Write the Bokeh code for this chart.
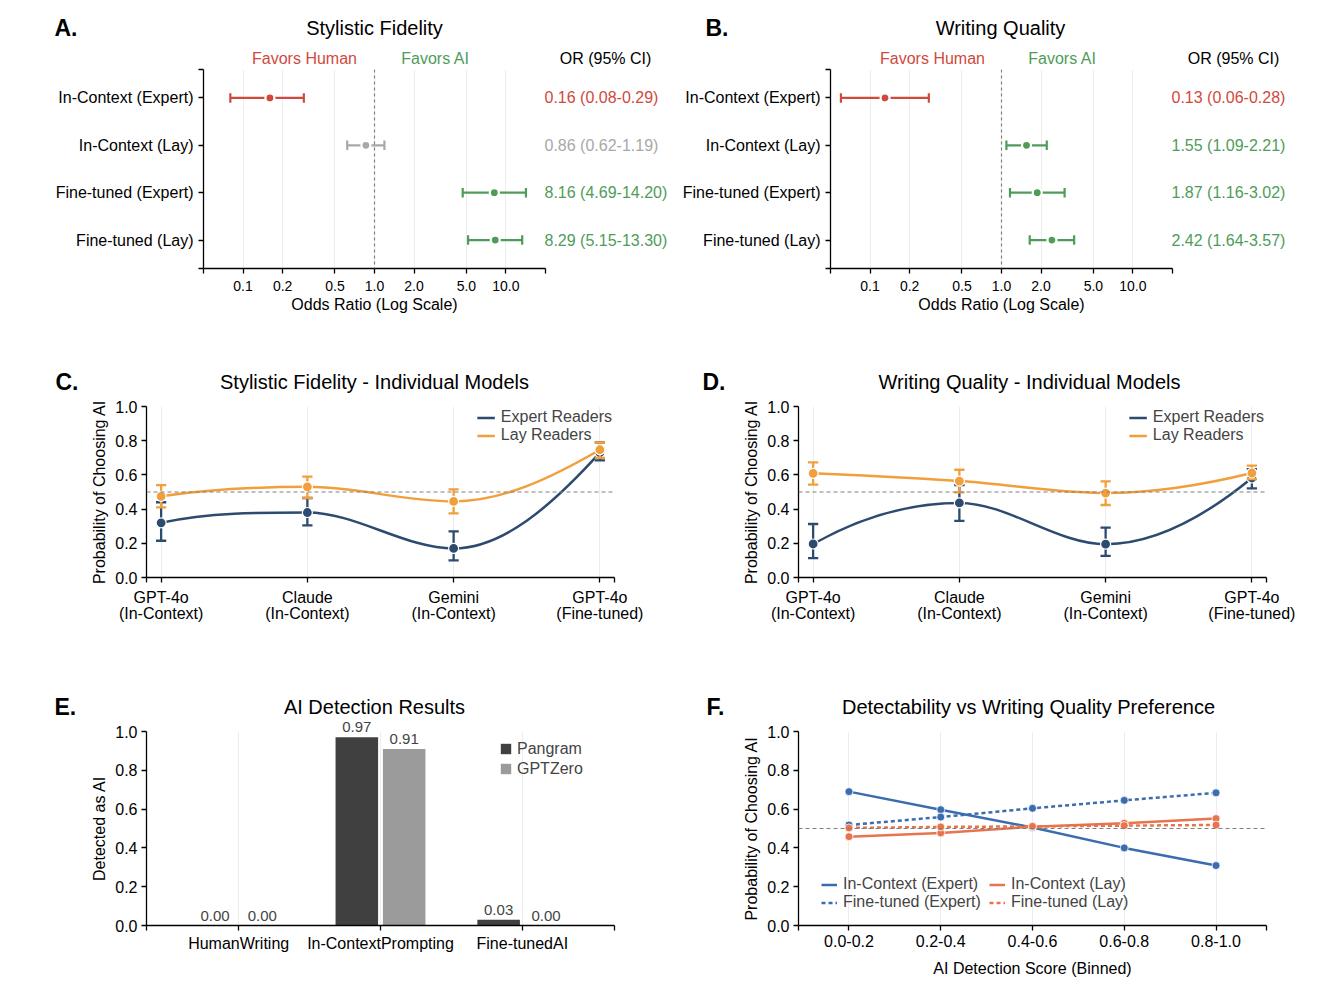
import numpy as np
from bokeh.plotting import figure
from bokeh.models import (ColumnDataSource, Label, LabelSet, FixedTicker, Span, Range1d,
                          Legend, LegendItem, PrintfTickFormatter, GridBox)
from bokeh.layouts import column, row
from bokeh.embed import file_html
from bokeh.resources import INLINE
from bokeh.core.properties import value

# ---------------- data ----------------
or_categories = ["In-Context (Expert)", "In-Context (Lay)", "Fine-tuned (Expert)", "Fine-tuned (Lay)"]
style_or = [0.16, 0.86, 8.16, 8.29]
style_lo = [0.08, 0.62, 4.69, 5.15]
style_hi = [0.29, 1.19, 14.20, 13.30]
quality_or = [0.13, 1.55, 1.87, 2.42]
quality_lo = [0.06, 1.09, 1.16, 1.64]
quality_hi = [0.28, 2.21, 3.02, 3.57]
or_ticks = [0.1, 0.2, 0.5, 1.0, 2.0, 5.0, 10.0]
or_tick_labels = ["0.1", "0.2", "0.5", "1.0", "2.0", "5.0", "10.0"]

model_labels = ["GPT-4o\n(In-Context)", "Claude\n(In-Context)", "Gemini\n(In-Context)", "GPT-4o\n(Fine-tuned)"]
style_expert = [0.32, 0.38, 0.17, 0.73]
style_expert_lo = [0.215, 0.305, 0.10, 0.685]
style_expert_hi = [0.44, 0.465, 0.27, 0.79]
style_lay = [0.475, 0.53, 0.445, 0.747]
style_lay_lo = [0.41, 0.465, 0.375, 0.70]
style_lay_hi = [0.54, 0.59, 0.515, 0.79]
quality_expert = [0.196, 0.436, 0.195, 0.582]
quality_expert_lo = [0.113, 0.331, 0.126, 0.521]
quality_expert_hi = [0.313, 0.54, 0.292, 0.634]
quality_lay = [0.609, 0.564, 0.494, 0.611]
quality_lay_lo = [0.543, 0.498, 0.424, 0.575]
quality_lay_hi = [0.673, 0.630, 0.562, 0.654]
prob_ticks = [0.0, 0.2, 0.4, 0.6, 0.8, 1.0]

detect_categories = ["HumanWriting", "In-ContextPrompting", "Fine-tunedAI"]
pangram = [0.00, 0.97, 0.03]
gptzero = [0.00, 0.91, 0.00]

score_bins = ["0.0-0.2", "0.2-0.4", "0.4-0.6", "0.6-0.8", "0.8-1.0"]
ic_expert = [0.69, 0.597, 0.505, 0.40, 0.309]
ft_expert = [0.518, 0.559, 0.604, 0.645, 0.684]
ic_lay = [0.458, 0.477, 0.509, 0.527, 0.551]
ft_lay = [0.503, 0.508, 0.511, 0.515, 0.518]

# ---------------- style ----------------
FONT = "Liberation Sans"
RED = "#d0493d"
GREEN = "#4e9c59"
GRAY = "#a8a8a8"
NAVY = "#2d4a6f"
ORANGE = "#f19f3c"
DARK = "#404040"
LIGHT = "#9b9b9b"
FBLUE = "#3b6cae"
FORANGE = "#e7744c"
GRID = "#ededed"


def make_panel(ox, oy, w, h, l, r, t, b, xr, yr, xlog=False):
    """Chart figure plus a transparent text overlay sharing the same data mapping."""
    kw = dict(x_axis_type="log") if xlog else {}
    p = figure(width=w, height=h, min_border_left=l, min_border_right=r,
               min_border_top=t, min_border_bottom=b, x_range=xr, y_range=yr,
               toolbar_location=None, output_backend="svg", **kw)
    p.frame_align = False
    p.outline_line_color = None
    p.background_fill_color = "white"
    p.border_fill_color = "white"
    p.ygrid.visible = False
    p.xgrid.grid_line_color = GRID
    p.xgrid.grid_line_width = 1
    for ax in p.axis:
        ax.axis_line_color = "black"
        ax.axis_line_width = 1.3
        ax.major_tick_line_color = "black"
        ax.major_tick_line_width = 1.3
        ax.major_tick_out = 5
        ax.major_tick_in = 0
        ax.minor_tick_line_color = None
        ax.major_label_text_font = FONT
        ax.major_label_text_color = "black"
        ax.major_label_text_font_size = "16px"
        ax.major_label_standoff = 4
        ax.axis_label_text_font = FONT
        ax.axis_label_text_font_style = "normal"
        ax.axis_label_text_font_size = "16px"
        ax.axis_label_text_color = "black"
        ax.axis_label_standoff = 4
    fx0, fx1 = ox + l, ox + w - r
    fy0, fy1 = oy + t, oy + h - b

    def X(px):
        f = (px - fx0) / (fx1 - fx0)
        if xlog:
            a, c = np.log10(xr[0]), np.log10(xr[1])
            return float(10 ** (a + f * (c - a)))
        return xr[0] + f * (xr[1] - xr[0])

    def Y(py):
        f = (fy1 - py) / (fy1 - fy0)
        return yr[0] + f * (yr[1] - yr[0])

    q = figure(width=w, height=h, min_border_left=0, min_border_right=0,
               min_border_top=0, min_border_bottom=0,
               x_range=Range1d(X(ox), X(ox + w)), y_range=Range1d(Y(oy + h), Y(oy)),
               x_axis_location=None, y_axis_location=None,
               toolbar_location=None, output_backend="svg", **kw)
    q.frame_align = False
    q.outline_line_color = None
    q.background_fill_color = None
    q.border_fill_color = None
    q.grid.visible = False
    return p, q, X, Y


def stack(p, q):
    return GridBox(children=[(p, 0, 0), (q, 0, 0)])


def add_text(q, x, y, text, size="16px", color="black", align="center",
             baseline="alphabetic", bold=False):
    q.add_layout(Label(x=x, y=y, text=text, text_font=FONT, text_font_size=size,
                       text_color=color, text_align=align, text_baseline=baseline,
                       text_font_style="bold" if bold else "normal"))


def panel_heading(q, X, Y, letter, lx, title, tx, by):
    add_text(q, X(lx), Y(by), letter, size="23px", align="left", bold=True)
    add_text(q, X(tx), Y(by), title, size="20px")


# ---------------- forest panels (A, B) ----------------
def forest(ox, w, l, r, letter, lx, title, tx, ors, los, his, hx_h, hx_a, hx_or, vx):
    xr, yr = (0.05, 20.0), (-0.6, 3.6)
    p, q, X, Y = make_panel(ox, 0, w, 336, l, r, 69, 68, xr, yr, xlog=True)
    n = len(or_categories)
    ypos = [n - 1 - i for i in range(n)]
    cols = [RED if h < 1 else (GREEN if lo > 1 else GRAY) for lo, h in zip(los, his)]
    src = ColumnDataSource(dict(
        y=ypos, o=ors, lo=los, hi=his, c=cols,
        ya=[v - 0.1 for v in ypos], yb=[v + 0.1 for v in ypos],
        txt=[f"{o:.2f} ({a:.2f}-{b:.2f})" for o, a, b in zip(ors, los, his)],
        tx=[X(vx)] * n))
    p.add_layout(Span(location=1.0, dimension="height", line_color="#808080",
                      line_dash="3 3", line_width=1.2))
    p.segment(x0="lo", y0="y", x1="hi", y1="y", line_color="c", line_width=2.2, source=src)
    p.segment(x0="lo", y0="ya", x1="lo", y1="yb", line_color="c", line_width=2.2, source=src)
    p.segment(x0="hi", y0="ya", x1="hi", y1="yb", line_color="c", line_width=2.2, source=src)
    p.scatter(x="o", y="y", size=9, fill_color="c", line_color="white", line_width=2.2, source=src)
    q.add_layout(LabelSet(x="tx", y="y", text="txt", text_color="c", source=src,
                          text_font=value(FONT), text_font_size=value("16px"),
                          text_align="left", text_baseline="middle"))
    p.xaxis.ticker = FixedTicker(ticks=[xr[0]] + or_ticks + [xr[1]])
    ov = {t: s for t, s in zip(or_ticks, or_tick_labels)}
    ov[xr[0]] = ""
    ov[xr[1]] = ""
    p.xaxis.major_label_overrides = ov
    p.xaxis.major_label_text_font_size = "14px"
    p.xaxis.major_label_standoff = 7
    p.xaxis.axis_label = "Odds Ratio (Log Scale)"
    p.xaxis.axis_label_standoff = 2
    p.xgrid.ticker = FixedTicker(ticks=or_ticks)
    p.yaxis.ticker = FixedTicker(ticks=[yr[0]] + sorted(ypos) + [yr[1]])
    yov = {yy: c for yy, c in zip(ypos, or_categories)}
    yov[yr[0]] = ""
    yov[yr[1]] = ""
    p.yaxis.major_label_overrides = yov
    p.yaxis.major_label_standoff = 5
    panel_heading(q, X, Y, letter, lx, title, tx, 27)
    add_text(q, X(hx_h), Y(58), "Favors Human", color=RED)
    add_text(q, X(hx_a), Y(58), "Favors AI", color=GREEN)
    add_text(q, X(hx_or), Y(58), "OR (95% CI)")
    return stack(p, q)


pA = forest(0, 676, 203, 131, "A.", 54, "Stylistic Fidelity", 374,
            style_or, style_lo, style_hi, 304, 435, 605, 544)
pB = forest(676, 640, 154, 144, "B.", 705, "Writing Quality", 1000,
            quality_or, quality_lo, quality_hi, 932, 1062, 1233, 1171)


# ---------------- model panels (C, D) ----------------
def pchip_source(y):
    """Monotone cubic (PCHIP) segments through the points, expressed as Bezier curves."""
    y = np.asarray(y, float)
    n = len(y)
    d = y[1:] - y[:-1]
    m = np.zeros(n)
    for k in range(1, n - 1):
        if d[k - 1] * d[k] > 0:
            m[k] = 2.0 / (1.0 / d[k - 1] + 1.0 / d[k])
    for k, (a, c) in ((0, (d[0], d[1])), (n - 1, (d[-1], d[-2]))):
        e = (3 * a - c) / 2.0
        if np.sign(e) != np.sign(a):
            e = 0.0
        elif np.sign(a) != np.sign(c) and abs(e) > abs(3 * a):
            e = 3 * a
        m[k] = e
    x0 = np.arange(n - 1, dtype=float)
    x1 = x0 + 1
    return ColumnDataSource(dict(x0=x0, y0=y[:-1], x1=x1, y1=y[1:],
                                 cx0=x0 + 1 / 3, cy0=y[:-1] + m[:-1] / 3,
                                 cx1=x1 - 1 / 3, cy1=y[1:] - m[1:] / 3))


def model_series(p, means, los, his, color):
    x = list(range(len(means)))
    r = p.bezier(x0="x0", y0="y0", x1="x1", y1="y1", cx0="cx0", cy0="cy0",
                 cx1="cx1", cy1="cy1", line_color=color, line_width=2.5,
                 source=pchip_source(means))
    src = ColumnDataSource(dict(x=x, m=means, lo=los, hi=his,
                                xa=[v - 0.035 for v in x], xb=[v + 0.035 for v in x]))
    p.segment(x0="x", y0="lo", x1="x", y1="hi", line_color=color, line_width=2.3, source=src)
    p.segment(x0="xa", y0="lo", x1="xb", y1="lo", line_color=color, line_width=2.3, source=src)
    p.segment(x0="xa", y0="hi", x1="xb", y1="hi", line_color=color, line_width=2.3, source=src)
    p.scatter(x="x", y="m", size=10, fill_color=color, line_color="white", line_width=1.2, source=src)
    return r


def prob_axis(p):
    p.yaxis.ticker = FixedTicker(ticks=prob_ticks)
    p.yaxis.formatter = PrintfTickFormatter(format="%.1f")
    p.yaxis.axis_label = "Probability of Choosing AI"
    p.add_layout(Span(location=0.5, dimension="width", line_color="#808080",
                      line_dash="4 3", line_width=1.2))


def models(ox, l, r, letter, lx, title, tx, ex, exlo, exhi, lay, laylo, layhi):
    xr, yr = (-0.1, 3.1), (0.0, 1.0)
    p, q, X, Y = make_panel(ox, 336, 658, 320, l, r, 70, 79, xr, yr)
    prob_axis(p)
    r1 = model_series(p, ex, exlo, exhi, NAVY)
    r2 = model_series(p, lay, laylo, layhi, ORANGE)
    xs = list(range(len(model_labels)))
    p.xaxis.ticker = FixedTicker(ticks=[xr[0]] + xs + [xr[1]])
    ov = {v: s for v, s in zip(xs, model_labels)}
    ov[xr[0]] = ""
    ov[xr[1]] = ""
    p.xaxis.major_label_overrides = ov
    p.xaxis.major_label_text_line_height = 0.95
    p.xaxis.major_label_standoff = 6
    p.xgrid.ticker = FixedTicker(ticks=xs)
    leg = Legend(items=[LegendItem(label="Expert Readers", renderers=[r1]),
                        LegendItem(label="Lay Readers", renderers=[r2])],
                 location="top_right", margin=2, padding=0, spacing=0,
                 glyph_width=18, glyph_height=17, label_height=17, label_standoff=6,
                 label_text_font=FONT, label_text_font_size="16px",
                 background_fill_alpha=0, border_line_color=None)
    p.add_layout(leg)
    panel_heading(q, X, Y, letter, lx, title, tx, 381)
    return stack(p, q)


pC = models(0, 146, 44, "C.", 55, "Stylistic Fidelity - Individual Models", 374,
            style_expert, style_expert_lo, style_expert_hi, style_lay, style_lay_lo, style_lay_hi)
pD = models(658, 140, 50, "D.", 702, "Writing Quality - Individual Models", 1029,
            quality_expert, quality_expert_lo, quality_expert_hi, quality_lay, quality_lay_lo, quality_lay_hi)

# ---------------- E: detection bars ----------------
xrE, yrE = (-0.65, 2.65), (0.0, 1.0)
pE, qE, XE, YE = make_panel(0, 656, 658, 329, 146, 44, 75, 60, xrE, yrE)
xs = list(range(len(detect_categories)))
srcP = ColumnDataSource(dict(x=[v - 0.167 for v in xs], top=pangram, t=[f"{v:.2f}" for v in pangram]))
srcG = ColumnDataSource(dict(x=[v + 0.167 for v in xs], top=gptzero, t=[f"{v:.2f}" for v in gptzero]))
rP = pE.vbar(x="x", top="top", width=0.3, fill_color=DARK, line_color=None, source=srcP)
rG = pE.vbar(x="x", top="top", width=0.3, fill_color=LIGHT, line_color=None, source=srcG)
for s in (srcP, srcG):
    qE.add_layout(LabelSet(x="x", y="top", text="t", source=s, y_offset=5,
                           text_font=value(FONT), text_font_size=value("15px"),
                           text_align="center", text_baseline="alphabetic"))
pE.yaxis.ticker = FixedTicker(ticks=prob_ticks)
pE.yaxis.formatter = PrintfTickFormatter(format="%.1f")
pE.yaxis.axis_label = "Detected as AI"
pE.xaxis.ticker = FixedTicker(ticks=[xrE[0]] + xs + [xrE[1]])
ovE = {v: s for v, s in zip(xs, detect_categories)}
ovE[xrE[0]] = ""
ovE[xrE[1]] = ""
pE.xaxis.major_label_overrides = ovE
pE.xgrid.ticker = FixedTicker(ticks=xs)
legE = Legend(items=[LegendItem(label="Pangram", renderers=[rP]),
                     LegendItem(label="GPTZero", renderers=[rG])],
              location=(353, 147), margin=0, padding=0, spacing=1,
              glyph_width=13, glyph_height=13, label_height=19, label_standoff=5,
              label_text_font=FONT, label_text_font_size="16px",
              background_fill_alpha=0, border_line_color=None)
pE.add_layout(legE)
panel_heading(qE, XE, YE, "E.", 54, "AI Detection Results", 374, 706)

# ---------------- F: detectability ----------------
xrF, yrF = (-0.55, 4.55), (0.0, 1.0)
pF, qF, XF, YF = make_panel(658, 656, 658, 329, 140, 50, 75, 60, xrF, yrF)
prob_axis(pF)
xf = list(range(len(score_bins)))
series = [(ic_expert, FBLUE, "solid", "In-Context (Expert)"),
          (ft_expert, FBLUE, "4 3", "Fine-tuned (Expert)"),
          (ic_lay, FORANGE, "solid", "In-Context (Lay)"),
          (ft_lay, FORANGE, "4 3", "Fine-tuned (Lay)")]
itemsF = []
for ys, c, dash, lab in series:
    rl = pF.line(xf, ys, line_color=c, line_width=2.5, line_dash=dash)
    pF.scatter(xf, ys, size=8, fill_color=c, line_color="white", line_width=0.8)
    itemsF.append(LegendItem(label=lab, renderers=[rl]))
pF.xaxis.ticker = FixedTicker(ticks=[xrF[0]] + xf + [xrF[1]])
ovF = {v: s for v, s in zip(xf, score_bins)}
ovF[xrF[0]] = ""
ovF[xrF[1]] = ""
pF.xaxis.major_label_overrides = ovF
pF.xaxis.axis_label = "AI Detection Score (Binned)"
pF.xaxis.axis_label_standoff = 10
pF.xgrid.ticker = FixedTicker(ticks=xf)
legF = Legend(items=itemsF, location=(23, 14), ncols=2, margin=0, padding=0, spacing=0,
              glyph_width=16, glyph_height=17, label_height=17, label_standoff=6,
              label_width=146,
              label_text_font=FONT, label_text_font_size="16px",
              background_fill_alpha=0, border_line_color=None)
pF.add_layout(legF)
panel_heading(qF, XF, YF, "F.", 706, "Detectability vs Writing Quality Preference", 1028, 706)

layout = column(row(pA, pB), row(pC, pD), row(stack(pE, qE), stack(pF, qF)))
open("out.html", "w").write(file_html(layout, INLINE))
